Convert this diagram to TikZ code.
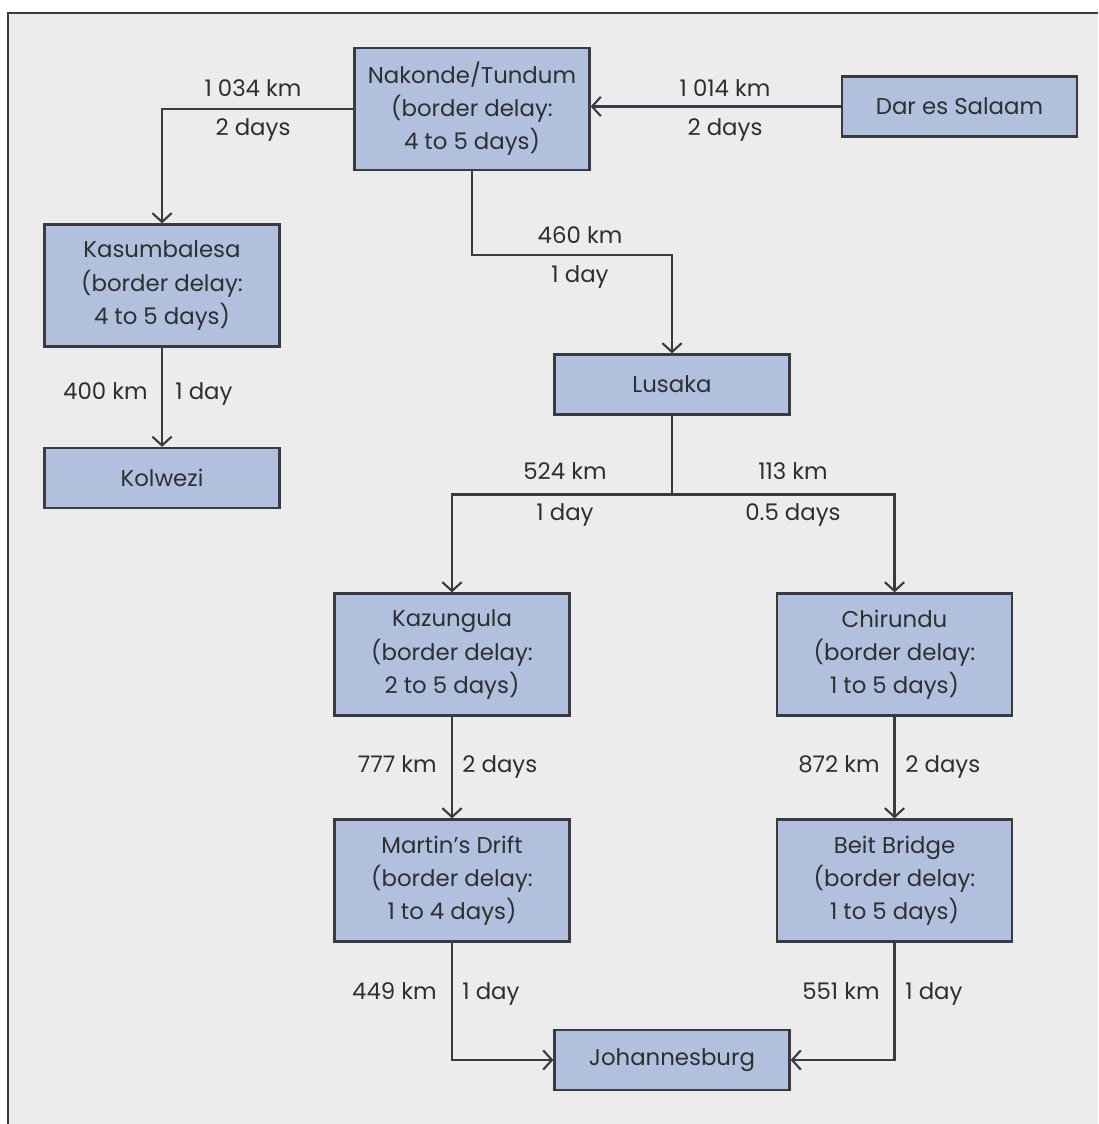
\documentclass[tikz,border=0pt]{standalone}
\usepackage{fontspec}
\setmainfont{Poppins}
\usetikzlibrary{arrows.meta}
\definecolor{boxfill}{HTML}{B1C0DC}
\definecolor{boxline}{HTML}{3A3A44}
\definecolor{bgfill}{HTML}{ECECEC}
\definecolor{txt}{HTML}{2E2E33}

\begin{document}
\begin{tikzpicture}[x=0.02cm,y=-0.02cm,
  town/.style={draw=boxline,line width=1.3pt,fill=boxfill,text=txt,
    minimum width=4.7cm,minimum height=1.2cm,align=center,inner sep=0pt,
    font=\fontsize{13}{18.8}\selectfont},
  border/.style={town,minimum height=2.44cm},
  lbl/.style={text=txt,inner sep=0pt,font=\fontsize{13}{16}\selectfont},
  road/.style={draw=boxline,line width=1.3pt},
  arr/.style={road,-{Straight Barb[length=5pt,width=11pt,line width=1.2pt]}}]

\useasboundingbox (0,0) rectangle (1098,1124);
\fill[bgfill] (8,13) rectangle (1098,1124);
\draw[boxline,line width=1.4pt] (8,1124) -- (8,13) -- (1098,13);

\node[border] (nak) at (472,109) {Nakonde/Tundum\\(border delay:\\4 to 5 days)};
\node[town] (dar) at (959.5,106.5) {Dar es Salaam};
\node[border] (kas) at (162,285.5) {Kasumbalesa\\(border delay:\\4 to 5 days)};
\node[town] (kol) at (162,478) {Kolwezi};
\node[town] (lus) at (672,384.5) {Lusaka};
\node[border] (kaz) at (452,654.5) {Kazungula\\(border delay:\\2 to 5 days)};
\node[border] (chi) at (894.5,654.5) {Chirundu\\(border delay:\\1 to 5 days)};
\node[border] (mar) at (452,880.5) {Martin's Drift\\(border delay:\\1 to 4 days)};
\node[border] (bei) at (894.5,880.5) {Beit Bridge\\(border delay:\\1 to 5 days)};
\node[town] (joh) at (672,1060) {Johannesburg};

\draw[arr] (nak.west) -| (kas.north);
\draw[arr] (dar.west) -- (dar.west -| nak.east);
\draw[arr] (nak.south) -- ++(0,84) -| (lus.north);
\draw[arr] (kas.south) -- (kol.north);
\draw[road] (lus.south) -- ++(0,79) coordinate (fork);
\draw[arr] (fork) -| (kaz.north);
\draw[arr] (fork) -| (chi.north);
\draw[arr] (kaz.south) -- (mar.north);
\draw[arr] (chi.south) -- (bei.north);
\draw[arr] (mar.south) |- (joh.west);
\draw[arr] (bei.south) |- (joh.east);

\node[lbl] (d1) at (253,88) {1 034 km};
\node[lbl] (t1) at (253,130) {2 days};
\node[lbl] (d2) at (725,88) {1 014 km};
\node[lbl] (t2) at (725,130) {2 days};
\node[lbl] (d3) at (580,235) {460 km};
\node[lbl] (t3) at (580,277) {1 day};
\node[lbl,anchor=base east] (d4) at (148,399) {400 km};
\node[lbl,anchor=base west] (t4) at (175,399) {1 day};
\node[lbl] (d5) at (565,471) {524 km};
\node[lbl] (t5) at (565,515) {1 day};
\node[lbl] (d6) at (793,471) {113 km};
\node[lbl] (t6) at (793,515) {0.5 days};
\node[lbl,anchor=base east] (d7) at (437,772) {777 km};
\node[lbl,anchor=base west] (t7) at (462,772) {2 days};
\node[lbl,anchor=base east] (d8) at (880,772) {872 km};
\node[lbl,anchor=base west] (t8) at (905,772) {2 days};
\node[lbl,anchor=base east] (d9) at (437,999) {449 km};
\node[lbl,anchor=base west] (t9) at (462,999) {1 day};
\node[lbl,anchor=base east] (d10) at (880,999) {551 km};
\node[lbl,anchor=base west] (t10) at (905,999) {1 day};

\end{tikzpicture}
\end{document}
